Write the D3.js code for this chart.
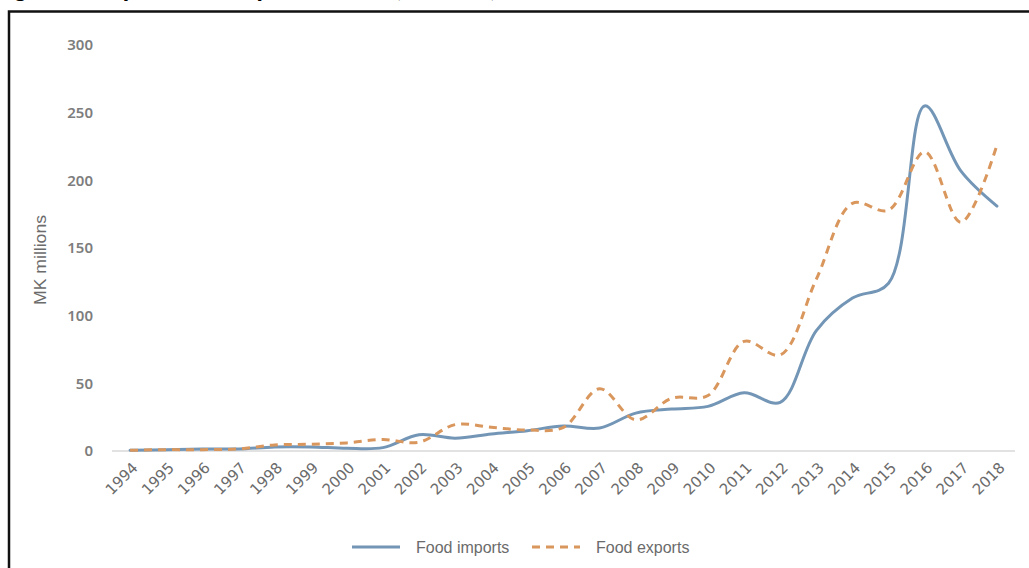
<!DOCTYPE html>
<html>
<head>
<meta charset="utf-8">
<script src="https://cdn.jsdelivr.net/npm/d3@7"></script>
<style>
  html, body { margin: 0; padding: 0; background: #fff; overflow: hidden; }
  svg { display: block; }
</style>
</head>
<body>
<svg id="chart" width="1029" height="568"></svg>
<script>
// Food trade, MK millions
const years = ["1994","1995","1996","1997","1998","1999","2000","2001","2002","2003","2004","2005","2006",
               "2007","2008","2009","2010","2011","2012","2013","2014","2015","2016","2017","2018"];
const foodImports = [0.5, 1, 1.5, 1.5, 3, 3, 2, 2.5, 12, 9.5, 12.5, 15, 18.5,
                     17, 28, 31, 33, 43, 36, 89, 113, 124, 255, 207, 181];
const foodExports = [0.5, 1, 1, 1.5, 4.5, 5, 6, 8.5, 6.5, 19.5, 17.5, 15.5, 17.5,
                     46, 23, 39, 41, 81, 71, 127, 183, 178, 221, 169, 226];
const yTicks = [0, 50, 100, 150, 200, 250, 300];
const seriesNames = ["Food imports", "Food exports"];
const titleText = "Figure 3: Imports and exports of food, Malawi, 1994\u20132018";

const svg = d3.select("#chart");
const colImp = "#7396b6", colExp = "#d9975d", textCol = "#6b6b6b";

// title strip, mostly above the frame
svg.append("text")
  .attr("x", -4).attr("y", -3)
  .attr("font-family", "Carlito, 'Liberation Sans', sans-serif")
  .attr("font-weight", "bold").attr("font-size", 26)
  .attr("fill", "#000")
  .text(titleText);

// frame
svg.append("rect")
  .attr("x", 9).attr("y", 11.5).attr("width", 1040).attr("height", 600)
  .attr("fill", "none").attr("stroke", "#111").attr("stroke-width", 2.5);

const x = d3.scalePoint().domain(years).range([112, 1015]).padding(0.5);
const y = d3.scaleLinear().domain([0, 300]).range([451, 45]);

// y tick labels
svg.append("g").selectAll("text").data(yTicks).join("text")
  .attr("x", 93).attr("y", d => y(d)).attr("dy", "0.35em")
  .attr("text-anchor", "end")
  .attr("font-family", "'Noto Sans', sans-serif").attr("font-weight", 600)
  .attr("font-size", 15)
  .attr("fill", "#7d7d7d")
  .text(d => d);

// y title
svg.append("text")
  .attr("transform", "translate(46,260) rotate(-90)")
  .attr("text-anchor", "middle")
  .attr("font-family", "'Liberation Sans Narrow', 'Arial Narrow', sans-serif")
  .attr("font-size", 16).attr("fill", textCol)
  .attr("textLength", 90).attr("lengthAdjust", "spacingAndGlyphs")
  .text("MK millions");

// baseline
svg.append("line")
  .attr("x1", 112).attr("x2", 1015).attr("y1", y(0)).attr("y2", y(0))
  .attr("stroke", "#d9d9d9").attr("stroke-width", 1.5);

// x tick labels
svg.append("g").selectAll("text").data(years).join("text")
  .attr("transform", d => `translate(${x(d) + 5},${y(0) + 14}) rotate(-45)`)
  .attr("text-anchor", "end").attr("dy", "0.35em")
  .attr("font-family", "'DejaVu Sans', sans-serif").attr("font-size", 15)
  .attr("fill", textCol)
  .text(d => d);

const line = d3.line()
  .x((d, i) => x(years[i]))
  .y(d => y(d))
  .curve(d3.curveCatmullRom.alpha(0.5));

svg.append("path").datum(foodImports)
  .attr("d", line).attr("fill", "none")
  .attr("stroke", colImp).attr("stroke-width", 3).attr("stroke-linecap", "round");

svg.append("path").datum(foodExports)
  .attr("d", line).attr("fill", "none")
  .attr("stroke", colExp).attr("stroke-width", 3)
  .attr("stroke-dasharray", "8,6");

// legend
const legend = [
  { name: seriesNames[0], color: colImp, dash: null, x: 352 },
  { name: seriesNames[1], color: colExp, dash: "8,6", x: 532 }
];
const lg = svg.append("g").selectAll("g").data(legend).join("g");
lg.append("line")
  .attr("x1", d => d.x).attr("x2", d => d.x + 48)
  .attr("y1", 547).attr("y2", 547)
  .attr("stroke", d => d.color).attr("stroke-width", 3)
  .attr("stroke-dasharray", d => d.dash);
lg.append("text")
  .attr("x", d => d.x + 64).attr("y", 547).attr("dy", "0.35em")
  .attr("font-family", "'Liberation Sans Narrow', 'Arial Narrow', sans-serif")
  .attr("font-size", 16).attr("fill", textCol)
  .text(d => d.name);
</script>
</body>
</html>
